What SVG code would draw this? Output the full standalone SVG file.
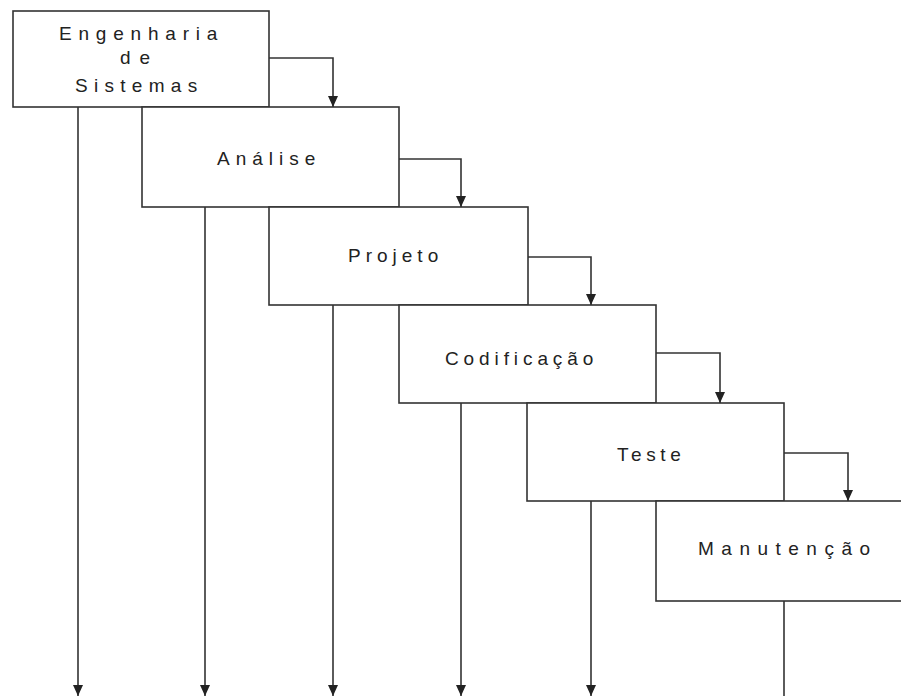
<svg xmlns="http://www.w3.org/2000/svg" width="901" height="696" viewBox="0 0 901 696">
<style>
.box{fill:#ffffff;stroke:#333333;stroke-width:1.6}
.lbl{font-family:"Liberation Sans",Arial,sans-serif;font-size:19px;fill:#222222}
.conn{fill:none;stroke:#333333;stroke-width:1.6}
</style>
<defs>
<marker id="arr" markerUnits="userSpaceOnUse" markerWidth="12" markerHeight="11" refX="11" refY="5" orient="auto">
<path d="M0,0 L11,5 L0,10 z" fill="#222222"/>
</marker>
</defs>
<rect width="901" height="696" fill="#ffffff"/>
<g id="node-engenharia">
<rect class="box" x="13" y="11" width="256" height="96"/>
<text class="lbl" x="59" y="40" letter-spacing="6.8">Engenharia</text>
<text class="lbl" x="120" y="64" letter-spacing="9">de</text>
<text class="lbl" x="75" y="92" letter-spacing="6.3">Sistemas</text>
</g>
<g id="node-analise">
<rect class="box" x="142" y="107" width="257" height="100"/>
<text class="lbl" x="217" y="165" letter-spacing="6">Análise</text>
</g>
<g id="node-projeto">
<rect class="box" x="269" y="207" width="259" height="98"/>
<text class="lbl" x="348" y="262" letter-spacing="5">Projeto</text>
</g>
<g id="node-codificacao">
<rect class="box" x="399" y="305" width="257" height="98"/>
<text class="lbl" x="445" y="365" letter-spacing="4.9">Codificação</text>
</g>
<g id="node-teste">
<rect class="box" x="527" y="403" width="257" height="98"/>
<text class="lbl" x="617" y="461" letter-spacing="4.6">Teste</text>
</g>
<g id="node-manutencao">
<rect class="box" x="656" y="501" width="260" height="100"/>
<text class="lbl" x="698" y="555" letter-spacing="7.5">Manutenção</text>
</g>
<g id="connectors">
<path class="conn" d="M269,58 H333 V107" marker-end="url(#arr)"/>
<path class="conn" d="M399,159 H461 V207" marker-end="url(#arr)"/>
<path class="conn" d="M528,257 H591 V305" marker-end="url(#arr)"/>
<path class="conn" d="M656,353 H720 V403" marker-end="url(#arr)"/>
<path class="conn" d="M784,453 H848 V501" marker-end="url(#arr)"/>
<path class="conn" d="M78,107 V696" marker-end="url(#arr)"/>
<path class="conn" d="M205,207 V696" marker-end="url(#arr)"/>
<path class="conn" d="M333,305 V696" marker-end="url(#arr)"/>
<path class="conn" d="M461,403 V696" marker-end="url(#arr)"/>
<path class="conn" d="M591,501 V696" marker-end="url(#arr)"/>
<path class="conn" d="M784,601 V696"/>
</g>
</svg>
